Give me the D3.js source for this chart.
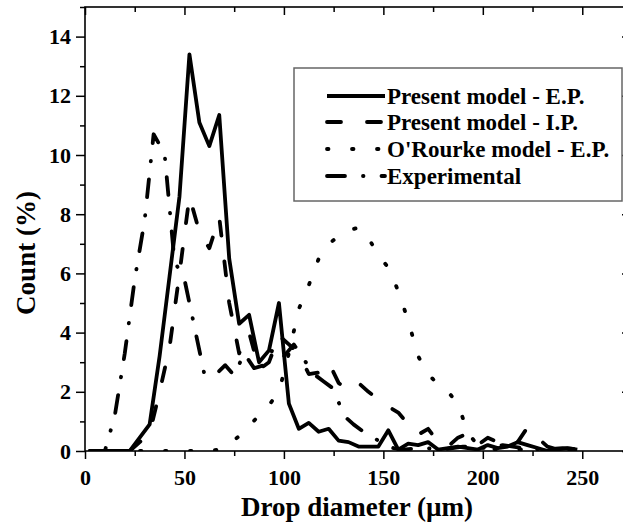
<!DOCTYPE html>
<html>
<head>
<meta charset="utf-8">
<script src="https://cdn.jsdelivr.net/npm/d3@7"></script>
<style>
  body { margin: 0; background: #fff; }
  svg { display: block; }
  text { font-family: "Liberation Serif", "Times New Roman", serif; font-weight: bold; fill: #000; }
</style>
</head>
<body>
<script>
// bins of the model curves (µm)
let binX = [2.5, 7.5, 12.5, 17.5, 22.5, 27.5, 32.5, 37.5, 42.5, 47.5,
            52.5, 57.5, 62.5, 67.5, 72.5, 77.5, 82.5, 87.5, 92.5, 97.5,
            102.5, 107.5, 112.5, 117.5, 122.5, 127.5, 132.5, 137.5, 142.5, 147.5,
            152.5, 157.5, 162.5, 167.5, 172.5, 177.5, 182.5, 187.5, 192.5, 197.5,
            202.5, 207.5, 212.5, 217.5, 222.5, 227.5, 232.5, 237.5, 242.5, 247.5]

let presentEP = [0, 0, 0, 0, 0, 0.45, 0.9, 3.2, 5.9, 8.6,
                 13.4, 11.1, 10.3, 11.35, 6.5, 4.3, 4.6, 3.0, 3.4, 5.0,
                 1.6, 0.75, 0.95, 0.65, 0.75, 0.35, 0.3, 0.15, 0.15, 0.15,
                 0.7, 0.05, 0.25, 0.2, 0.3, 0.05, 0.1, 0.15, 0.1, 0.05,
                 0.2, 0.1, 0.15, 0.3, 0.2, 0.1, 0.0, 0.05, 0.1, 0.05]

let presentIP = [0, 0, 0, 0, 0, 0.3, 0.6, 2.0, 3.5, 6.0,
                 8.6, 7.4, 6.85, 7.9, 5.0, 3.3, 4.0, 2.75, 3.0, 3.9,
                 3.6, 3.3, 2.6, 2.65, 3.0, 2.3, 2.05, 2.3, 2.0, 1.75,
                 1.5, 1.3, 0.9, 0.55, 0.75, 0.3, 0.15, 0.45, 0.6, 0.2,
                 0.45, 0.3, 0.15, 0.3, 0.8, 0.45, 0.15, 0.05, 0.25, 0.25]

let orourkeEP = [0, 0, 0, 0, 0, 0, 0, 0, 0, 0,
                 0, 0, 0, 0.05, 0.25, 0.5, 0.85, 1.2, 1.55, 2.0,
                 3.3, 4.8, 5.6, 6.5, 7.0, 7.25, 7.45, 7.55, 7.2, 6.6,
                 6.2, 5.4, 4.4, 3.2, 2.6, 2.25, 2.0, 1.6, 0.6, 0.2,
                 0.1, 0.05, 0.05, 0.05, 0.05, 0.05, 0, 0, 0, 0]

// experimental distribution
let expX = [2.5, 10, 15, 20, 25, 30, 34.5, 40, 45, 50, 55, 60, 66, 70.5, 75,
            80, 85, 90, 95, 100, 105, 110, 115, 120, 125, 130, 135, 140, 145, 150,
            155, 160, 170, 180, 190, 200, 210, 220, 230, 240, 250]
let expY = [0, 0, 1.2, 3.3, 5.8, 7.8, 10.7, 10.05, 6.4, 5.8, 4.2, 2.6, 2.6, 2.9, 2.55,
            3.3, 2.8, 2.9, 3.5, 3.2, 3.6, 3.1, 2.6, 2.35, 2.1, 1.2, 0.9, 0.65, 0.45, 0.25,
            0.1, 0.05, 0.1, 0.05, 0.15, 0.1, 0.2, 0.1, 0.05, 0.1, 0.05]

let xMajor = [0, 50, 100, 150, 200, 250]
let xMinor = [25, 75, 125, 175, 225, 275]
let yMajor = [0, 2, 4, 6, 8, 10, 12, 14]
let yMinor = [1, 3, 5, 7, 9, 11, 13, 15]

let legendLabels = ["Present model - E.P.", "Present model - I.P.", "O'Rourke model - E.P.", "Experimental"]

////////////////////////////////////////////////////////////////
// scales

let xScale = d3.scaleLinear().domain([0, 275]).range([85, 632])
let yScale = d3.scaleLinear().domain([0, 15]).range([451, 7])

let svg = d3.select("body").append("svg")
  .attr("width", 623)
  .attr("height", 530)

svg.append("clipPath").attr("id", "plotclip")
  .append("rect")
  .attr("x", 85).attr("y", 7).attr("width", 547).attr("height", 444)

// series styles
let series = [
  { xs: binX, ys: presentEP, dash: null },
  { xs: binX, ys: presentIP, dash: "14,26" },
  { xs: binX, ys: orourkeEP, dash: "1.5,23.5" },
  { xs: expX, ys: expY, dash: "18,18,0.5,18" }
]

let line = d3.line()
  .x(p => xScale(p[0]))
  .y(p => yScale(p[1]))

svg.append("g")
  .attr("clip-path", "url(#plotclip)")
  .selectAll("path")
  .data(series)
  .enter()
  .append("path")
  .attr("d", s => line(s.xs.map((v, i) => [v, s.ys[i]])))
  .attr("fill", "none")
  .attr("stroke", "#000")
  .attr("stroke-width", 3.8)
  .attr("stroke-linejoin", "round")
  .attr("stroke-linecap", s => s.dash ? "round" : "butt")
  .attr("stroke-dasharray", s => s.dash)

////////////////////////////////////////////////////////////////
// axes

function styleAxis(g) {
  g.select(".domain").remove()
  g.selectAll("line").attr("stroke", "#000").attr("stroke-width", 1.5)
  g.selectAll("text").attr("font-size", 22).attr("font-family", "Liberation Serif")
}

// bottom
svg.append("g")
  .attr("transform", `translate(0,${yScale(0)})`)
  .call(d3.axisBottom(xScale).tickValues(xMajor).tickSize(8).tickPadding(10).tickFormat(d3.format("d")))
  .call(styleAxis)
svg.append("g")
  .attr("transform", `translate(0,${yScale(0)})`)
  .call(d3.axisBottom(xScale).tickValues(xMinor).tickSize(5).tickFormat(""))
  .call(styleAxis)

// top (inward)
svg.append("g")
  .attr("transform", `translate(0,${yScale(15)})`)
  .call(d3.axisBottom(xScale).tickValues(xMajor).tickSize(8).tickFormat(""))
  .call(styleAxis)
svg.append("g")
  .attr("transform", `translate(0,${yScale(15)})`)
  .call(d3.axisBottom(xScale).tickValues(xMinor).tickSize(5).tickFormat(""))
  .call(styleAxis)

// left
svg.append("g")
  .attr("transform", `translate(${xScale(0)},0)`)
  .call(d3.axisLeft(yScale).tickValues(yMajor).tickSize(9).tickPadding(5).tickFormat(d3.format("d")))
  .call(styleAxis)
svg.append("g")
  .attr("transform", `translate(${xScale(0)},0)`)
  .call(d3.axisLeft(yScale).tickValues(yMinor).tickSize(5).tickFormat(""))
  .call(styleAxis)

// right (inward)
svg.append("g")
  .attr("transform", `translate(${xScale(275)},0)`)
  .call(d3.axisLeft(yScale).tickValues(yMajor).tickSize(10).tickFormat(""))
  .call(styleAxis)
svg.append("g")
  .attr("transform", `translate(${xScale(275)},0)`)
  .call(d3.axisLeft(yScale).tickValues(yMinor).tickSize(5).tickFormat(""))
  .call(styleAxis)

// frame
svg.append("rect")
  .attr("x", xScale(0)).attr("y", yScale(15))
  .attr("width", xScale(275) - xScale(0))
  .attr("height", yScale(0) - yScale(15))
  .attr("fill", "none")
  .attr("stroke", "#000")
  .attr("stroke-width", 1.6)

// axis titles
svg.append("text")
  .attr("x", 357).attr("y", 516)
  .attr("text-anchor", "middle")
  .attr("font-size", 27)
  .text("Drop diameter (µm)")

svg.append("text")
  .attr("transform", "translate(35,253) rotate(-90)")
  .attr("text-anchor", "middle")
  .attr("font-size", 27)
  .text("Count (%)")

////////////////////////////////////////////////////////////////
// legend

let legend = svg.append("g")

legend.append("rect")
  .attr("x", 294).attr("y", 68)
  .attr("width", 328).attr("height", 133)
  .attr("fill", "#fff")
  .attr("stroke", "#666")
  .attr("stroke-width", 1.5)

let rowY = [96, 122, 149, 176]

let rows = legend.selectAll("g.row")
  .data(legendLabels)
  .enter()
  .append("g")
  .attr("class", "row")
  .attr("transform", (d, i) => `translate(0,${rowY[i]})`)

rows.append("path")
  .attr("d", "M327,0H385")
  .attr("fill", "none")
  .attr("stroke", "#000")
  .attr("stroke-width", 3.8)
  .attr("stroke-linecap", (d, i) => series[i].dash ? "round" : "butt")
  .attr("stroke-dasharray", (d, i) => series[i].dash)

rows.append("text")
  .attr("x", 387)
  .attr("dy", "0.35em")
  .attr("font-size", 23)
  .text(d => d)
</script>
</body>
</html>
